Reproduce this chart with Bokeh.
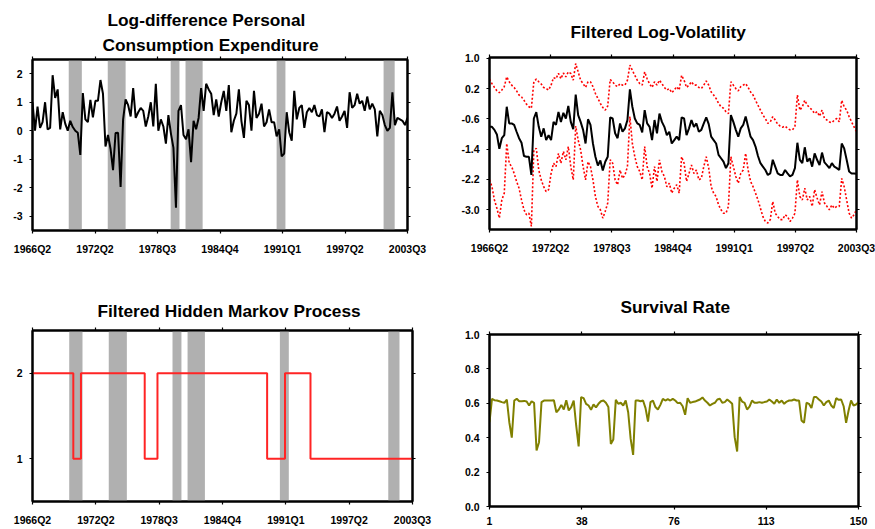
from bokeh.plotting import figure
from bokeh.models import Range1d, FixedTicker, LinearAxis, Title, PrintfTickFormatter
from bokeh.layouts import column, row
from bokeh.embed import file_html
from bokeh.resources import INLINE

# ---------------------------------------------------------------- data
quarter_labels = ["1966Q2", "1972Q2", "1978Q3", "1984Q4", "1991Q1", "1997Q2", "2003Q3"]
obs_labels = ["1", "38", "76", "113", "150"]

# quarterly observation index 1..150 (1966Q2 .. 2003Q3)
n_obs = 150
obs = list(range(1, n_obs + 1))

# NBER recession bands, in observation-index units
rec_start = [15.4, 30.9, 55.9, 61.8, 98.0, 140.5]
rec_end = [20.6, 38.0, 59.4, 68.6, 101.5, 144.9]

pce_growth = [
    1.0, 0.0, 0.85, 0.1, 0.3, 1.0, 0.05, 0.1, 1.95, 1.15,
    1.45, 0.05, 0.65, 0.25, 0.0, 0.35, 0.13, 0.0, -0.07, -0.85,
    1.32, 0.4, 0.3, 1.08, 0.47, 1.05, 1.05, 1.78, 1.3, -0.55,
    -0.15, -0.63, -1.38, -0.08, -0.07, -1.97, 0.4, 1.1, 0.9, 0.5,
    1.5, 0.45, 0.65, 0.8, 0.7, 0.15, 0.5, 1.0, 0.15, 1.65,
    0.0, 0.4, 0.15, -0.45, 0.55, -0.1, -0.6, -2.7, 0.7, 0.9,
    -0.15, -0.3, 0.05, -1.1, 0.35, 0.05, 0.45, 1.5, 0.7, 1.65,
    1.45, 1.3, 0.55, 1.1, 0.5, 1.0, 1.4, 0.7, 1.6, -0.05,
    0.35, 0.6, 1.45, 0.35, -0.25, 1.05, 0.9, 0.0, 1.4, 0.45,
    0.6, 0.95, 0.15, 0.3, 0.75, 0.3, 0.3, -0.2, 0.05, -0.9,
    -0.8, 0.65, -0.05, -0.35, 1.4, 0.4, 0.8, 0.9, 0.1, 0.65,
    0.8, 0.65, 0.9, 0.55, 0.5, 0.75, -0.05, 0.65, 0.6, 0.45,
    0.6, 0.85, 0.35, 0.5, 0.7, 0.1, 1.35, 0.8, 0.9, 1.3,
    0.95, 1.05, 0.7, 1.2, 0.75, 0.95, 0.75, -0.2, 0.7, 0.55,
    0.2, 0.0, 0.1, 1.35, 0.2, 0.45, 0.4, 0.35, 0.2, 0.45,
]

logvol_mean = [
    -0.81, -0.81, -0.89, -1.01, -1.39, -1.11, -1.03, -0.28, -0.72, -0.72,
    -0.76, -0.94, -1.11, -1.23, -1.58, -1.60, -1.60, -2.08, -0.59, -0.42,
    -0.81, -1.07, -0.85, -1.16, -1.03, -1.16, -0.68, -0.76, -0.42, -0.68,
    -0.44, -0.59, -0.26, -0.68, -0.87, 0.04, -0.50, -0.68, -0.89, -1.25,
    -0.61, -0.76, -1.25, -1.60, -1.83, -1.70, -1.96, -1.73, -1.60, -0.56,
    -0.59, -0.98, -1.11, -0.72, -0.94, -0.85, -0.63, 0.18, -0.28, -0.59,
    -0.72, -0.76, -0.96, -0.37, -0.72, -0.81, -1.16, -0.63, -0.98, -0.46,
    -0.68, -0.81, -1.03, -0.94, -1.25, -1.16, -1.07, -1.16, -0.56, -0.59,
    -1.03, -0.85, -0.63, -0.81, -0.72, -0.94, -0.89, -0.72, -0.56, -0.74,
    -1.07, -1.16, -1.25, -1.55, -1.64, -1.73, -1.90, -1.77, -0.50, -0.68,
    -0.89, -1.07, -0.85, -0.76, -0.54, -0.81, -1.07, -1.16, -1.33, -1.58,
    -1.77, -1.86, -1.95, -2.08, -2.04, -1.68, -1.86, -2.04, -2.08, -2.08,
    -1.95, -2.04, -2.12, -2.08, -1.90, -1.23, -1.68, -1.77, -1.35, -1.73,
    -1.64, -1.86, -1.51, -1.68, -1.82, -1.49, -1.75, -1.82, -1.90, -1.77,
    -1.86, -1.90, -1.95, -1.25, -1.38, -1.68, -1.99, -2.04, -2.04, -2.05,
]

logvol_upper = [
    0.45, 0.33, 0.23, 0.14, 0.09, 0.16, 0.25, 0.51, 0.38, 0.29,
    0.23, 0.14, 0.03, -0.02, -0.11, -0.21, -0.28, -0.32, 0.38, 0.45,
    0.38, 0.32, 0.23, 0.20, 0.16, 0.29, 0.49, 0.46, 0.60, 0.46,
    0.61, 0.51, 0.64, 0.60, 0.42, 0.86, 0.64, 0.42, 0.33, 0.23,
    0.38, 0.38, 0.25, 0.07, -0.06, -0.19, -0.30, -0.37, -0.26, 0.44,
    0.38, 0.29, 0.25, 0.33, 0.29, 0.29, 0.42, 0.82, 0.68, 0.55,
    0.42, 0.33, 0.29, 0.64, 0.46, 0.32, 0.23, 0.38, 0.29, 0.42,
    0.33, 0.23, 0.16, 0.20, 0.09, 0.16, 0.25, 0.16, 0.55, 0.42,
    0.23, 0.29, 0.38, 0.29, 0.29, 0.23, 0.20, 0.29, 0.40, 0.29,
    0.11, 0.03, -0.06, -0.19, -0.28, -0.32, -0.41, -0.46, 0.38, 0.29,
    0.20, 0.14, 0.25, 0.29, 0.33, 0.23, 0.11, 0.03, -0.11, -0.24,
    -0.37, -0.50, -0.59, -0.72, -0.68, -0.54, -0.63, -0.74, -0.79, -0.82,
    -0.79, -0.85, -0.89, -0.89, -0.81, 0.03, -0.37, -0.28, -0.11, -0.24,
    -0.30, -0.37, -0.46, -0.41, -0.53, -0.37, -0.59, -0.63, -0.68, -0.70,
    -0.63, -0.59, -0.68, -0.11, -0.28, -0.37, -0.54, -0.68, -0.81, -0.94,
]

logvol_lower = [
    -2.21, -2.39, -2.74, -2.96, -3.22, -2.74, -2.56, -1.25, -1.77, -1.86,
    -2.04, -2.25, -2.43, -2.74, -3.00, -3.13, -3.09, -3.44, -1.42, -1.38,
    -1.95, -2.21, -2.39, -2.52, -2.47, -2.04, -1.77, -1.86, -1.51, -1.77,
    -1.46, -1.68, -1.33, -1.86, -2.21, -0.79, -1.16, -1.42, -1.86, -2.21,
    -1.73, -1.86, -2.21, -2.65, -2.91, -3.00, -3.22, -3.04, -2.82, -1.68,
    -1.77, -2.21, -2.34, -1.95, -2.17, -2.08, -1.86, -0.54, -1.25, -1.60,
    -1.86, -1.99, -2.21, -1.33, -1.86, -2.04, -2.43, -1.86, -2.25, -1.68,
    -1.99, -2.12, -2.39, -2.30, -2.56, -2.43, -2.34, -2.56, -1.60, -1.77,
    -2.25, -2.04, -1.82, -2.04, -1.95, -2.21, -2.17, -1.86, -1.60, -1.90,
    -2.39, -2.56, -2.65, -2.87, -3.00, -3.09, -3.09, -2.91, -1.60, -1.86,
    -2.12, -2.30, -2.04, -1.95, -1.51, -1.95, -2.25, -2.39, -2.56, -2.74,
    -2.96, -3.18, -3.31, -3.35, -3.26, -2.78, -3.09, -3.18, -3.26, -3.26,
    -3.13, -3.18, -3.31, -3.22, -3.09, -2.21, -2.65, -2.74, -2.43, -2.74,
    -2.65, -2.91, -2.47, -2.69, -2.87, -2.52, -2.82, -2.91, -3.00, -2.87,
    -2.96, -2.91, -2.91, -2.17, -2.39, -2.74, -3.09, -3.22, -3.13, -3.00,
]

# filtered regime, run-length encoded (state, number of quarters)
regime_levels = [2, 1, 2, 1, 2, 1, 2, 1]
regime_runs = [16, 3, 25, 5, 43, 7, 10, 41]

survival = [
    0.49, 0.626, 0.618, 0.616, 0.612, 0.607, 0.603, 0.622, 0.49, 0.40,
    0.616, 0.626, 0.612, 0.612, 0.614, 0.61, 0.587, 0.612, 0.603, 0.326,
    0.374, 0.607, 0.616, 0.616, 0.616, 0.616, 0.618, 0.548, 0.564, 0.591,
    0.564, 0.618, 0.558, 0.578, 0.616, 0.471, 0.349, 0.636, 0.63, 0.597,
    0.587, 0.562, 0.593, 0.576, 0.597, 0.612, 0.616, 0.603, 0.578, 0.364,
    0.39, 0.62, 0.597, 0.603, 0.587, 0.616, 0.548, 0.393, 0.30, 0.616,
    0.616, 0.612, 0.616, 0.572, 0.494, 0.607, 0.616, 0.578, 0.564, 0.591,
    0.626, 0.616, 0.624, 0.616, 0.626, 0.616, 0.601, 0.603, 0.583, 0.533,
    0.63, 0.603, 0.607, 0.61, 0.616, 0.622, 0.634, 0.616, 0.603, 0.587,
    0.597, 0.603, 0.622, 0.626, 0.603, 0.607, 0.622, 0.61, 0.597, 0.403,
    0.32, 0.636, 0.61, 0.603, 0.564, 0.581, 0.616, 0.603, 0.603, 0.607,
    0.603, 0.607, 0.61, 0.622, 0.61, 0.597, 0.622, 0.603, 0.616, 0.597,
    0.61, 0.616, 0.616, 0.622, 0.616, 0.616, 0.50, 0.486, 0.603, 0.597,
    0.572, 0.636, 0.636, 0.622, 0.61, 0.587, 0.607, 0.616, 0.587, 0.572,
    0.63, 0.62, 0.622, 0.583, 0.486, 0.558, 0.616, 0.587, 0.593, 0.607,
]

regime = []
for level, run in zip(regime_levels, regime_runs):
    regime.extend([level] * run)

# ---------------------------------------------------------------- styling helpers
FONT = "Liberation Sans"
SHADE = "#b0b0b0"


def style_axis(ax, standoff):
    ax.axis_line_color = "black"
    ax.axis_line_width = 2
    ax.major_tick_line_color = "black"
    ax.major_tick_line_width = 1.2
    ax.major_tick_in = 0
    ax.major_tick_out = 3
    ax.minor_tick_line_color = None
    ax.major_label_standoff = standoff
    ax.major_label_text_font = FONT
    ax.major_label_text_font_style = "bold"
    ax.major_label_text_font_size = "10.5px"
    ax.major_label_text_color = "black"


def panel(width, height, borders, xr, yr, xticks, xlabels, yticks, yfmt, xstand):
    left, right, top, bottom = borders
    p = figure(width=width, height=height, title=None,
               x_range=Range1d(*xr), y_range=Range1d(*yr),
               output_backend="svg", toolbar_location=None,
               min_border_left=left, min_border_right=right,
               min_border_top=top, min_border_bottom=bottom)
    p.background_fill_color = "white"
    p.border_fill_color = "white"
    p.outline_line_color = "black"
    p.outline_line_width = 2
    p.xgrid.visible = False
    p.ygrid.visible = False

    xa = p.xaxis[0]
    xa.ticker = FixedTicker(ticks=xticks)
    xa.major_label_overrides = {t: s for t, s in zip(xticks, xlabels)}
    style_axis(xa, xstand)

    ya = p.yaxis[0]
    ya.ticker = FixedTicker(ticks=yticks)
    ya.formatter = PrintfTickFormatter(format=yfmt)
    style_axis(ya, 7)

    # unlabeled tick marks along the top and right edges of the frame
    top_ax = LinearAxis(ticker=FixedTicker(ticks=xticks),
                        major_label_overrides={t: "" for t in xticks})
    style_axis(top_ax, 0)
    top_ax.major_label_text_font_size = "1px"
    p.add_layout(top_ax, "above")
    right_ax = LinearAxis(ticker=FixedTicker(ticks=yticks),
                          major_label_overrides={t: "" for t in yticks})
    style_axis(right_ax, 0)
    right_ax.major_label_text_font_size = "1px"
    p.add_layout(right_ax, "right")
    return p


def add_titles(p, lines, standoff, offsets):
    # lines are listed from the frame outward; offsets shift each line right
    for k, (text, off) in enumerate(zip(lines, offsets)):
        p.add_layout(Title(text=text, align="left", text_font=FONT,
                           text_font_style="bold", text_font_size="17.3px",
                           text_color="black", offset=off,
                           standoff=standoff if k == 0 else 2), "above")


def shade_recessions(p, yr):
    p.quad(left=rec_start, right=rec_end, bottom=yr[0], top=yr[1],
           fill_color=SHADE, line_color=None, level="underlay")


x_span = (1, n_obs)
qticks = [1 + k * (n_obs - 1) / 6 for k in range(7)]
oticks = [1 + k * (n_obs - 1) / 4 for k in range(5)]

TOP_H = 274
BOTTOM_H = 255

# ---------------------------------------------------------------- panel 1
yr1 = (-3.5, 2.5)
p1 = panel(437, TOP_H, (32, 30, 59, 44), x_span, yr1, qticks, quarter_labels,
           [-3, -2, -1, 0, 1, 2], "%d", 9)
shade_recessions(p1, yr1)
p1.line(obs, pce_growth, line_color="black", line_width=2)
add_titles(p1, ["Consumption Expenditure", "Log-difference Personal"], 4, [70, 75])

# ---------------------------------------------------------------- panel 2
yr2 = (-3.52, 1.02)
p2 = panel(438, TOP_H, (52, 19, 57, 45), x_span, yr2, qticks, quarter_labels,
           [-3.0, -2.2, -1.4, -0.6, 0.2, 1.0], "%.1f", 9)
p2.line(obs, logvol_upper, line_color="red", line_width=1.6, line_dash="2 2")
p2.line(obs, logvol_lower, line_color="red", line_width=1.6, line_dash="2 2")
p2.line(obs, logvol_mean, line_color="black", line_width=2)
add_titles(p2, ["Filtered Log-Volatility"], 26, [81])

# ---------------------------------------------------------------- panel 3
yr3 = (0.5, 2.5)
p3 = panel(437, BOTTOM_H, (32, 25, 56, 28), x_span, yr3, qticks, quarter_labels,
           [1, 2], "%d", 9)
shade_recessions(p3, yr3)
p3.step(obs, regime, mode="after", line_color="#ff2424", line_width=2)
add_titles(p3, ["Filtered Hidden Markov Process"], 13, [65])

# ---------------------------------------------------------------- panel 4
yr4 = (0.0, 1.0)
p4 = panel(438, BOTTOM_H, (52, 17, 60, 23), x_span, yr4, oticks, obs_labels,
           [0.0, 0.2, 0.4, 0.6, 0.8, 1.0], "%.1f", 7)
p4.line(obs, survival, line_color="#808000", line_width=2)
add_titles(p4, ["Survival Rate"], 30, [131])

# each figure sits in its own box so that the frames keep their own borders
layout = column(row(column(p1), column(p2)), row(column(p3), column(p4)))

open("out.html", "w").write(file_html(layout, INLINE))
